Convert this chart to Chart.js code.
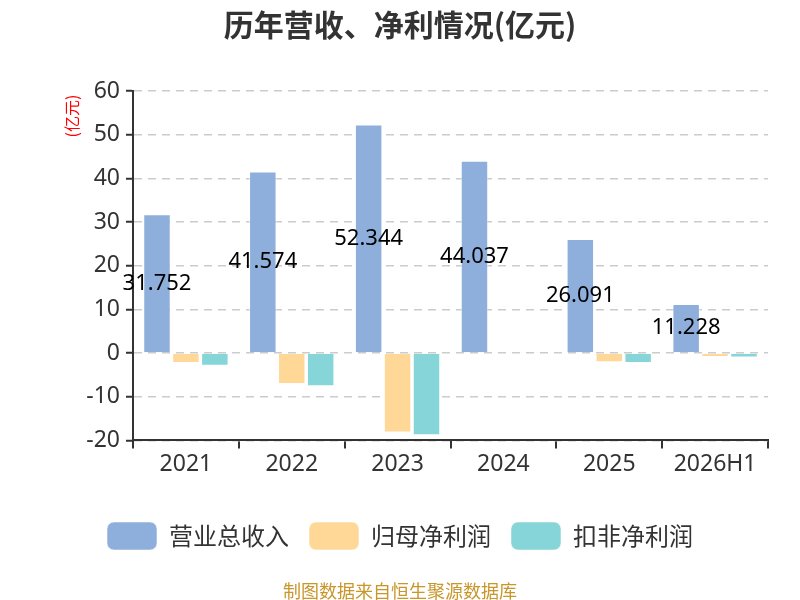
<!DOCTYPE html>
<html><head><meta charset="utf-8">
<script src="https://cdn.jsdelivr.net/npm/chart.js@4/dist/chart.umd.min.js"></script>
<style>
html,body{margin:0;padding:0;background:#fff;}
#wrap{position:relative;width:800px;height:600px;}
#foot{position:absolute;left:0;width:800px;top:578px;line-height:24px;text-align:center;font-size:18px;font-family:"Noto Sans CJK SC","Noto Sans",sans-serif;color:#c8962a;}
</style></head>
<body><div id="wrap"><canvas id="c" width="800" height="600"></canvas><div id="foot">制图数据来自恒生聚源数据库</div></div>
<script>
const categories = ["2021","2022","2023","2024","2025","2026H1"];
const revenue = [31.752, 41.574, 52.344, 44.037, 26.091, 11.228];
const netProfit = [-2.3, -7.1, -18.2, 0.3, -2.1, -0.9];
const deductedProfit = [-2.9, -7.6, -18.8, 0.1, -2.3, -1.0];
const revenueLabels = ["31.752","41.574","52.344","44.037","26.091","11.228"];
const yTicks = [60,50,40,30,20,10,0,-10,-20];

const FONT = '"Noto Sans","Noto Sans CJK SC",sans-serif';
const CJK = '"Noto Sans CJK SC","Noto Sans",sans-serif';

const labelPlugin = {
  id:'barLabels',
  afterDatasetsDraw(chart){
    const ctx = chart.ctx;
    const meta = chart.getDatasetMeta(0);
    ctx.save();
    ctx.font = '22px ' + FONT;
    ctx.fillStyle = '#000';
    ctx.textAlign = 'center';
    ctx.textBaseline = 'middle';
    meta.data.forEach((bar,i)=>{
      const y = (bar.y + bar.base)/2;
      ctx.fillText(revenueLabels[i], bar.x, y);
    });
    const top = chart.chartArea.top;
    ctx.translate(72, top + 25);
    ctx.rotate(-Math.PI/2);
    ctx.font = '16px ' + CJK;
    ctx.fillStyle = '#ff0000';
    ctx.fillText('(亿元)', 0, 0);
    ctx.restore();
  }
};

new Chart(document.getElementById('c'), {
  type:'bar',
  data:{
    labels: categories,
    datasets:[
      {label:'营业总收入', data: revenue, backgroundColor:'#8eaedb', borderColor:'rgba(255,255,255,0.5)', borderWidth:1},
      {label:'归母净利润', data: netProfit, backgroundColor:'#ffd898', borderColor:'rgba(255,255,255,0.5)', borderWidth:1},
      {label:'扣非净利润', data: deductedProfit, backgroundColor:'#86d5d8', borderColor:'rgba(255,255,255,0.5)', borderWidth:1}
    ]
  },
  options:{
    responsive:false,
    animation:false,
    devicePixelRatio:1,
    layout:{padding:{left:32,right:32,top:0,bottom:40}},
    datasets:{bar:{categoryPercentage:0.82,barPercentage:0.95}},
    plugins:{
      title:{display:true,text:'历年营收、净利情况(亿元)',color:'#333',font:{family:CJK,size:30,weight:'bold'},padding:{top:7,bottom:48}},
      legend:{position:'bottom',labels:{boxWidth:50,boxHeight:28,useBorderRadius:true,borderRadius:7,color:'#333',font:{family:CJK,size:24},padding:20}},
      tooltip:{enabled:false}
    },
    scales:{
      x:{
        afterFit(scale){scale.height += 22;},
        grid:{display:true,drawOnChartArea:false,drawTicks:true,tickLength:8,color:'#333',lineWidth:2,offset:true},
        border:{display:true,color:'#333',width:2},
        ticks:{color:'#333',font:{family:FONT,size:23},padding:2}
      },
      y:{
        min:-20,max:60,
        afterFit(scale){scale.width=101;},
        afterBuildTicks(scale){scale.ticks = yTicks.map(v=>({value:v}));},
        grid:{color:'#cccccc',lineWidth:1.5,drawTicks:true,tickLength:7,tickColor:'#333',tickWidth:2,tickBorderDash:[]},
        border:{display:true,color:'#333',width:2,dash:[8,6]},
        ticks:{color:'#333',font:{family:FONT,size:23},padding:6}
      }
    }
  },
  plugins:[labelPlugin]
});
</script>
</body></html>
